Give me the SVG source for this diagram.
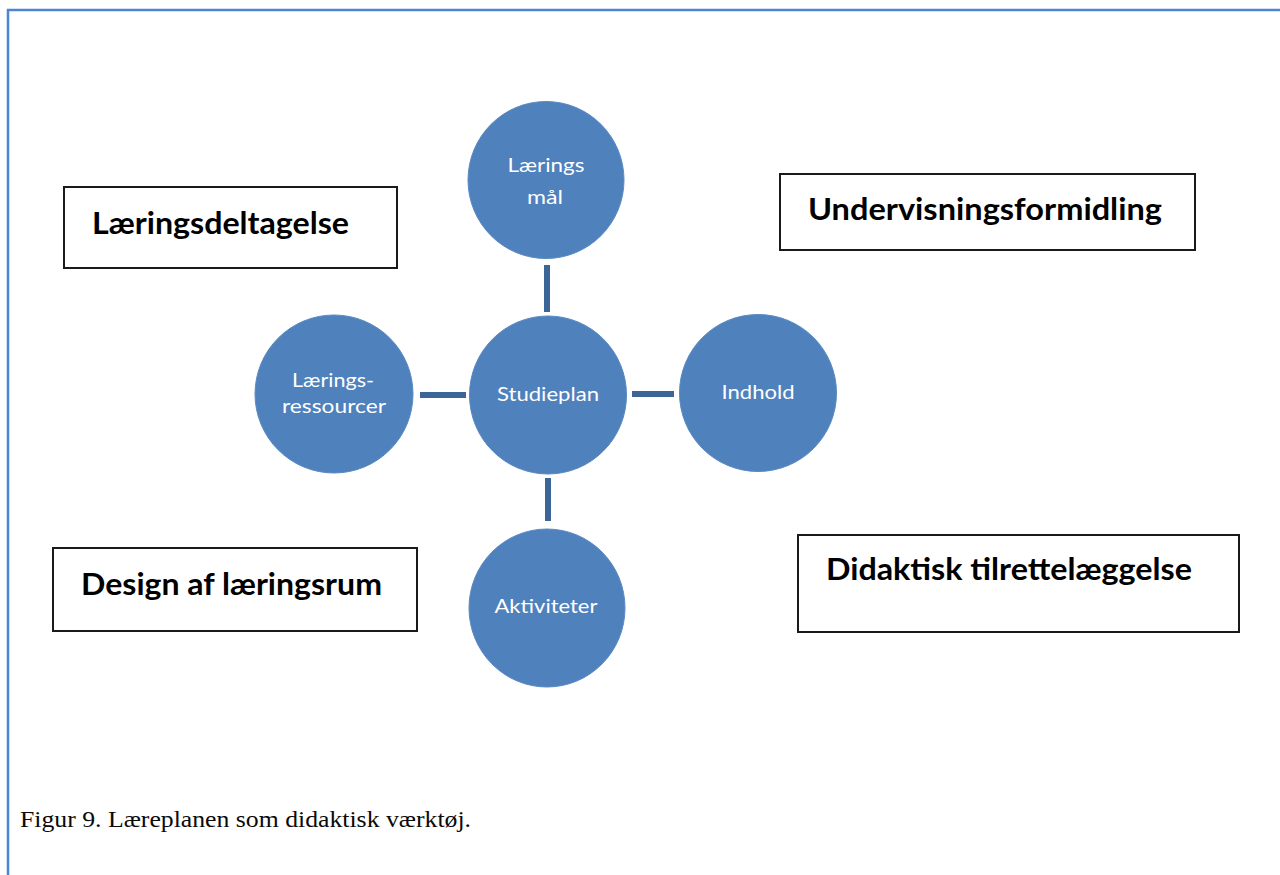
<svg xmlns="http://www.w3.org/2000/svg" width="1280" height="875" viewBox="0 0 1280 875">
  <style>
    .frame { fill: none; stroke: #4a86d0; stroke-width: 2.5; }
    .bubble { fill: #4f81bd; stroke: #5a8ac4; stroke-width: 1; }
    .bubble-label { font-family: Lato, "Open Sans", "Liberation Sans", sans-serif; font-size: 19px; fill: #ffffff; text-anchor: middle; }
    .box { fill: #ffffff; stroke: #1a1a1a; stroke-width: 2; }
    .box-label { font-family: Lato, "Liberation Sans", sans-serif; font-weight: bold; font-size: 30px; fill: #000000; }
    .link { stroke: #3d6698; stroke-width: 6; fill: none; }
    .caption { font-family: "Liberation Serif", "DejaVu Serif", serif; font-size: 24px; fill: #0a0a0a; }
  </style>
  <rect width="1280" height="875" fill="#ffffff"/>

  <!-- page frame: top and left edges only -->
  <path class="frame" d="M8,875 V10 H1280"/>

  <!-- spokes from the central bubble -->
  <g id="connectors">
    <line class="link" x1="547" y1="265" x2="547" y2="312"/>
    <line class="link" x1="548" y1="478" x2="548" y2="521"/>
    <line class="link" x1="420" y1="395" x2="466" y2="395"/>
    <line class="link" x1="632" y1="394" x2="674" y2="394"/>
  </g>

  <g id="studieplan">
    <ellipse class="bubble" cx="548" cy="395" rx="78.5" ry="79"/>
    <text class="bubble-label" x="548" y="401" textLength="102" lengthAdjust="spacingAndGlyphs">Studieplan</text>
  </g>

  <g id="laeringsmaal">
    <ellipse class="bubble" cx="546" cy="180" rx="78" ry="78.5"/>
    <text class="bubble-label" x="546" y="172" textLength="77" lengthAdjust="spacingAndGlyphs">Lærings</text>
    <text class="bubble-label" x="545" y="204" textLength="36" lengthAdjust="spacingAndGlyphs">mål</text>
  </g>

  <g id="laeringsressourcer">
    <ellipse class="bubble" cx="334" cy="394" rx="79" ry="79"/>
    <text class="bubble-label" x="333" y="387" textLength="82" lengthAdjust="spacingAndGlyphs">Lærings-</text>
    <text class="bubble-label" x="334" y="413" textLength="104" lengthAdjust="spacingAndGlyphs">ressourcer</text>
  </g>

  <g id="indhold">
    <ellipse class="bubble" cx="758" cy="393" rx="78.5" ry="78.5"/>
    <text class="bubble-label" x="758" y="399" textLength="73" lengthAdjust="spacingAndGlyphs">Indhold</text>
  </g>

  <g id="aktiviteter">
    <ellipse class="bubble" cx="547" cy="608" rx="78" ry="79"/>
    <text class="bubble-label" x="546" y="613" textLength="103" lengthAdjust="spacingAndGlyphs">Aktiviteter</text>
  </g>

  <g id="laeringsdeltagelse">
    <rect class="box" x="64" y="187" width="333" height="81"/>
    <text class="box-label" x="92" y="234" textLength="257" lengthAdjust="spacingAndGlyphs">Læringsdeltagelse</text>
  </g>

  <g id="undervisningsformidling">
    <rect class="box" x="780" y="174" width="415" height="76"/>
    <text class="box-label" x="808" y="220" textLength="354" lengthAdjust="spacingAndGlyphs">Undervisningsformidling</text>
  </g>

  <g id="design-af-laeringsrum">
    <rect class="box" x="53" y="548" width="364" height="83"/>
    <text class="box-label" x="81" y="595" textLength="301" lengthAdjust="spacingAndGlyphs">Design af læringsrum</text>
  </g>

  <g id="didaktisk-tilrettelaeggelse">
    <rect class="box" x="798" y="535" width="441" height="97"/>
    <text class="box-label" x="826" y="580" textLength="366" lengthAdjust="spacingAndGlyphs">Didaktisk tilrettelæggelse</text>
  </g>

  <text class="caption" x="20" y="827" textLength="451" lengthAdjust="spacingAndGlyphs">Figur 9. Læreplanen som didaktisk værktøj.</text>
</svg>
